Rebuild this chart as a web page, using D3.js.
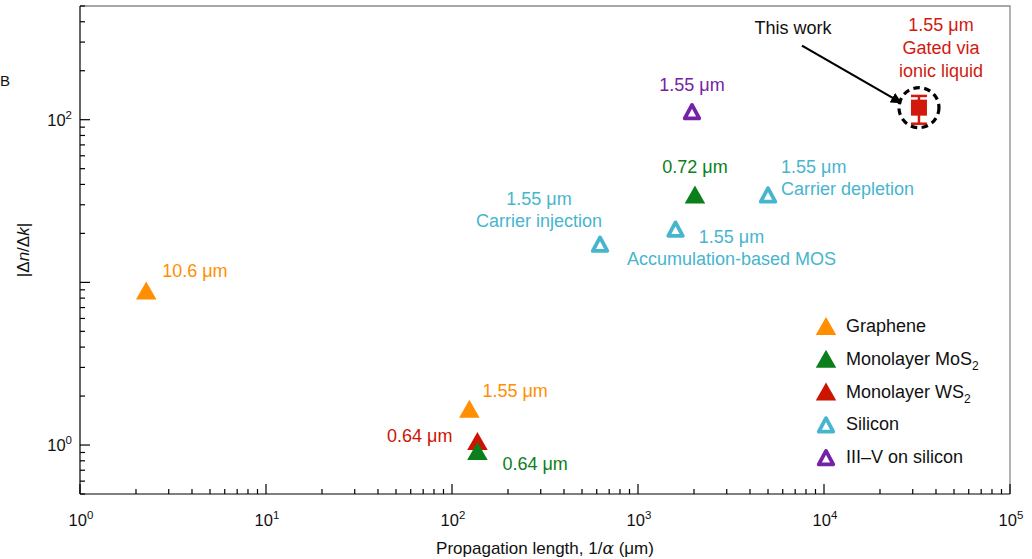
<!DOCTYPE html>
<html>
<head>
<meta charset="utf-8">
<script src="https://cdn.jsdelivr.net/npm/d3@7"></script>
<style>
  html, body { margin: 0; padding: 0; background: #fff; }
  svg { display: block; font-family: "Liberation Sans", Arial, Helvetica, sans-serif; }
</style>
</head>
<body>
<svg id="chart" width="1032" height="559"></svg>
<script>
// Materials shown in the legend and their colours
const materials = ["Graphene", "Monolayer MoS2", "Monolayer WS2", "Silicon", "III–V on silicon"];
const materialColors = ["#FF8E00", "#0B7F1B", "#CC1500", "#47B5CD", "#7422A6"];
const materialHollow = [false, false, false, true, true];

// Reported modulators: propagation length 1/α (μm) and |Δn/Δk|
const pointMaterial = ["Graphene", "Graphene", "Monolayer WS2", "Monolayer MoS2", "Monolayer MoS2",
                       "Silicon", "Silicon", "Silicon", "III–V on silicon"];
const pointLength   = [2.27, 124, 137, 137, 2024, 625, 1591, 5000, 1951];
const pointRatio    = [8.9, 1.67, 1.06, 0.92, 34.7, 17.3, 21.4, 34.7, 112.8];
const pointWavelength = ["10.6 μm", "1.55 μm", "0.64 μm", "0.64 μm", "0.72 μm",
                         "1.55 μm", "1.55 μm", "1.55 μm", "1.55 μm"];
const pointNote = ["", "", "", "", "", "Carrier injection", "Accumulation-based MOS", "Carrier depletion", ""];

// This work: ionic-liquid gated device
const workLength = 32400;
const workRatio = 118.6;
const workRatioLow = 94.5;
const workRatioHigh = 140;
const workLines = ["1.55 μm", "Gated via", "ionic liquid"];

// Axis ticks
const xTickValues = [1, 10, 100, 1000, 10000, 100000];
const xTickExps = ["0", "1", "2", "3", "4", "5"];
const yTickValues = [1, 100];
const yTickExps = ["0", "2"];

// Label placement relative to each marker: [dx, dy, anchor]
const labelLayout = [
  [16, -14, "start"],
  [13, -12, "start"],
  [-25, 1, "end"],
  [25, 19, "start"],
  [0, -21, "middle"],
  [-61, -39, "middle"],
  [56, 14, "middle"],
  [13, -21, "start"],
  [0, -20, "middle"]
];

const svg = d3.select("#chart");
const margin = { left: 80, right: 22, top: 6, bottom: 65 };
const W = 1032, H = 559;
const x = d3.scaleLog().domain([1, 1e5]).range([margin.left, W - margin.right]);
const y = d3.scaleLog().domain([0.5, 500]).range([H - margin.bottom, margin.top]);

const x0 = x.range()[0], x1 = x.range()[1];
const y0 = y.range()[0], y1 = y.range()[1];
const fs = 18;

// Frame: light top/right border
svg.append("path")
  .attr("d", `M${x0},${y1}H${x1}V${y0}`)
  .attr("fill", "none").attr("stroke", "#8a8a8a").attr("stroke-width", 1.3);

// Decade and sub-decade tick positions
function logTicks(scale) {
  const [a, b] = scale.domain();
  const out = [];
  for (let e = Math.floor(Math.log10(a)); e <= Math.ceil(Math.log10(b)); e++) {
    for (let m = 1; m <= 9; m++) {
      const v = m * Math.pow(10, e);
      if (v >= a * 0.999 && v <= b * 1.001) out.push({ v, major: m === 1 });
    }
  }
  return out;
}

const axisG = svg.append("g").attr("stroke", "#000").attr("stroke-width", 1.2);
logTicks(x).forEach(t => {
  const len = t.major ? 10 : 5;
  axisG.append("line").attr("x1", x(t.v)).attr("x2", x(t.v))
    .attr("y1", y0).attr("y2", y0 - len);
});
logTicks(y).forEach(t => {
  const len = t.major ? 10 : 5;
  axisG.append("line").attr("x1", x0).attr("x2", x0 + len)
    .attr("y1", y(t.v)).attr("y2", y(t.v));
});
axisG.append("line").attr("x1", x0).attr("x2", x1).attr("y1", y0).attr("y2", y0);
axisG.append("line").attr("x1", x0).attr("x2", x0).attr("y1", y0).attr("y2", y1);

// Tick labels with superscript exponents
xTickValues.forEach((v, i) => {
  const t = svg.append("text").attr("x", x(v) + 1).attr("y", y0 + 32)
    .attr("text-anchor", "middle").attr("font-size", 16.5).attr("fill", "#111");
  t.append("tspan").text("10");
  t.append("tspan").attr("dy", -7).attr("font-size", 11.5).text(xTickExps[i]);
});
yTickValues.forEach((v, i) => {
  const t = svg.append("text").attr("x", x0 - 8).attr("y", y(v) + 6)
    .attr("text-anchor", "end").attr("font-size", 16.5).attr("fill", "#111");
  t.append("tspan").text("10");
  t.append("tspan").attr("dy", -7).attr("font-size", 11.5).text(yTickExps[i]);
});

// Axis titles
const xt = svg.append("text").attr("x", (x0 + x1) / 2).attr("y", 554)
  .attr("text-anchor", "middle").attr("font-size", 17).attr("fill", "#111");
xt.append("tspan").text("Propagation length, 1/");
xt.append("tspan").attr("font-style", "italic").attr("font-family", "DejaVu Serif, serif").text("α");
xt.append("tspan").text(" (μm)");

const yt = svg.append("text").attr("transform", `translate(29,${(y0 + y1) / 2}) rotate(-90)`)
  .attr("text-anchor", "middle").attr("font-size", 17).attr("fill", "#111");
yt.append("tspan").text("|Δ");
yt.append("tspan").attr("font-style", "italic").text("n");
yt.append("tspan").text("/Δ");
yt.append("tspan").attr("font-style", "italic").text("k");
yt.append("tspan").text("|");

// Panel letter at the left edge
svg.append("text").attr("x", 0).attr("y", 86).attr("font-size", 15).attr("fill", "#111").text("B");

// Triangle marker path centred on its bounding box
function tri(w, h) {
  return `M0,${-h / 2}L${w / 2},${h / 2}L${-w / 2},${h / 2}Z`;
}
function drawMarker(g, mat, cx, cy) {
  const i = materials.indexOf(mat);
  const c = materialColors[i];
  if (materialHollow[i]) {
    g.append("path").attr("d", tri(14.5, 13.5)).attr("transform", `translate(${cx},${cy + 0.5})`)
      .attr("fill", "none").attr("stroke", c).attr("stroke-width", 3.8).attr("stroke-linejoin", "round");
  } else {
    g.append("path").attr("d", tri(20.5, 18)).attr("transform", `translate(${cx},${cy})`)
      .attr("fill", c);
  }
}

const marks = svg.append("g");
pointLength.forEach((lx, i) => {
  drawMarker(marks, pointMaterial[i], x(lx), y(pointRatio[i]));
});

// Point labels
const labels = svg.append("g").attr("font-size", fs);
pointLength.forEach((lx, i) => {
  const c = materialColors[materials.indexOf(pointMaterial[i])];
  const L = labelLayout[i];
  const px = x(lx) + L[0], py = y(pointRatio[i]) + L[1];
  const t = labels.append("text").attr("x", px).attr("y", py)
    .attr("text-anchor", L[2]).attr("fill", c);
  t.append("tspan").attr("x", px).text(pointWavelength[i]);
  if (pointNote[i]) t.append("tspan").attr("x", px).attr("dy", 22).text(pointNote[i]);
});

// This work: error bar, square marker and dashed highlight
const wx = x(workLength), wy = y(workRatio);
const red = "#D2190E";
const wg = svg.append("g");
wg.append("line").attr("x1", wx).attr("x2", wx).attr("y1", y(workRatioLow)).attr("y2", y(workRatioHigh))
  .attr("stroke", red).attr("stroke-width", 2.5);
[workRatioLow, workRatioHigh].forEach(v => {
  wg.append("line").attr("x1", wx - 8).attr("x2", wx + 8).attr("y1", y(v)).attr("y2", y(v))
    .attr("stroke", red).attr("stroke-width", 2.5);
});
wg.append("rect").attr("x", wx - 8).attr("y", wy - 8).attr("width", 16).attr("height", 16).attr("fill", red);
wg.append("circle").attr("cx", wx).attr("cy", wy).attr("r", 20)
  .attr("fill", "none").attr("stroke", "#000").attr("stroke-width", 3.2).attr("stroke-dasharray", "6.5,4.5");

const wt = svg.append("text").attr("font-size", fs).attr("fill", red).attr("text-anchor", "middle");
workLines.forEach((s, i) => {
  wt.append("tspan").attr("x", wx + 22).attr("y", wy - 77 + i * 23).text(s);
});

// "This work" callout arrow
svg.append("defs").append("marker").attr("id", "arrowhead")
  .attr("viewBox", "0 0 10 10").attr("refX", 9).attr("refY", 5)
  .attr("markerWidth", 5).attr("markerHeight", 5).attr("orient", "auto")
  .append("path").attr("d", "M0,0L10,5L0,10Z").attr("fill", "#000");
svg.append("line").attr("x1", wx - 117).attr("y1", wy - 62).attr("x2", wx - 18).attr("y2", wy - 5)
  .attr("stroke", "#000").attr("stroke-width", 2.2).attr("marker-end", "url(#arrowhead)");
svg.append("text").attr("x", wx - 126).attr("y", wy - 74).attr("text-anchor", "middle")
  .attr("font-size", fs).attr("fill", "#111").text("This work");

// Legend
const legend = svg.append("g").attr("font-size", fs).attr("fill", "#111");
const legendLabels = [["Graphene"], ["Monolayer MoS", "2"], ["Monolayer WS", "2"], ["Silicon"], ["III–V on silicon"]];
materials.forEach((m, i) => {
  const ly = 326 + i * 32.8;
  drawMarker(legend, m, 826, ly);
  const t = legend.append("text").attr("x", 846).attr("y", ly + 6);
  t.append("tspan").text(legendLabels[i][0]);
  if (legendLabels[i][1]) t.append("tspan").attr("dy", 5).attr("font-size", 12).text(legendLabels[i][1]);
});
</script>
</body>
</html>
